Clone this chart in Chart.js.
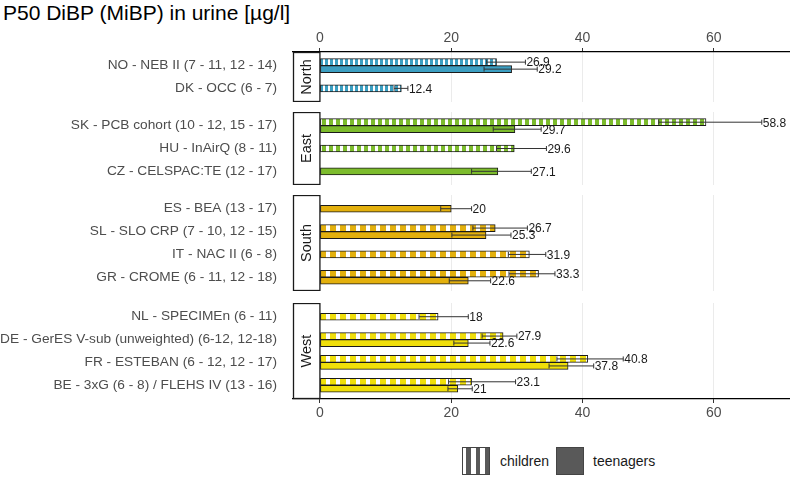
<!DOCTYPE html>
<html>
<head>
<meta charset="utf-8">
<script src="https://cdn.jsdelivr.net/npm/chart.js@4.4.0/dist/chart.umd.min.js"></script>
<style>
  body { margin: 0; background: #fff; font-family: "Liberation Sans", Arial, sans-serif; }
  #wrap { position: relative; width: 790px; height: 477px; overflow: hidden; background: #fff; }
  #title { position: absolute; left: 3px; top: 1px; font-size: 21px; line-height: 24px; color: #000; white-space: nowrap; }
  .panel { position: absolute; left: 0; width: 790px; }
  .key { position: absolute; top: 447px; width: 28px; height: 28px; box-sizing: border-box; border: 1px solid #444; }
  .keytext { position: absolute; top: 447px; line-height: 28px; font-size: 14px; color: #1a1a1a; }
</style>
</head>
<body>
<div id="wrap">
  <div id="title">P50 DiBP (MiBP) in urine [µg/l]</div>
  <div class="key" style="left:462px; background: repeating-linear-gradient(90deg, #fff 0 3.4px, #595959 3.4px 7.7px, #fff 7.7px 9.3px);"></div>
  <div class="keytext" style="left:500px;">children</div>
  <div class="key" style="left:556px; background:#595959;"></div>
  <div class="keytext" style="left:593px;">teenagers</div>
</div>
<script>
// Values (median, with lower / upper bound of the interval)
const xTicks = [0, 20, 40, 60];
const regions = ['North', 'East', 'South', 'West'];

const northStudies = ['NO - NEB II (7 - 11, 12 - 14)', 'DK - OCC (6 - 7)'];
const northChildren = [26.9, 12.4];
const northChildrenCI = [[25.4, 31.3], [11.3, 13.4]];
const northTeens = [29.2, null];
const northTeensCI = [[25.0, 33.1], null];

const eastStudies = ['SK - PCB cohort (10 - 12, 15 - 17)', 'HU - InAirQ (8 - 11)', 'CZ - CELSPAC:TE (12 - 17)'];
const eastChildren = [58.8, 29.6, null];
const eastChildrenCI = [[51.6, 67.3], [26.9, 34.5], null];
const eastTeens = [29.7, null, 27.1];
const eastTeensCI = [[26.4, 33.7], null, [23.1, 32.2]];

const southStudies = ['ES - BEA (13 - 17)', 'SL - SLO CRP (7 - 10, 12 - 15)', 'IT - NAC II (6 - 8)', 'GR - CROME (6 - 11, 12 - 18)'];
const southChildren = [null, 26.7, 31.9, 33.3];
const southChildrenCI = [null, [23.3, 31.6], [28.7, 34.4], [28.8, 35.8]];
const southTeens = [20, 25.3, null, 22.6];
const southTeensCI = [[18.4, 23.1], [20.1, 29.1], null, [19.7, 26.0]];

const westStudies = ['NL - SPECIMEn (6 - 11)', 'DE - GerES V-sub (unweighted) (6-12, 12-18)', 'FR - ESTEBAN (6 - 12, 12 - 17)', 'BE - 3xG (6 - 8) / FLEHS IV (13 - 16)'];
const westChildren = [18, 27.9, 40.8, 23.1];
const westChildrenCI = [[15.1, 22.6], [24.7, 30.0], [36.1, 46.2], [19.6, 29.8]];
const westTeens = [null, 22.6, 37.8, 21];
const westTeensCI = [null, [20.4, 25.9], [34.9, 41.7], [19.5, 23.2]];

// Layout / styles
const regionColors = ['#3c9fc2', '#7cbc2c', '#e3b00d', '#f0df0a'];
const panelTops = [52, 112, 195, 303];
const panelHeights = [50, 73, 96, 96];
const axisH = 27;
const font = '"Liberation Sans", Arial, sans-serif';

const panels = [
    { studies: northStudies, children: northChildren, childrenCI: northChildrenCI, teens: northTeens, teensCI: northTeensCI },
    { studies: eastStudies, children: eastChildren, childrenCI: eastChildrenCI, teens: eastTeens, teensCI: eastTeensCI },
    { studies: southStudies, children: southChildren, childrenCI: southChildrenCI, teens: southTeens, teensCI: southTeensCI },
    { studies: westStudies, children: westChildren, childrenCI: westChildrenCI, teens: westTeens, teensCI: westTeensCI }
];

// vertical white stripes for the children bars
function stripes(ctx, color, period) {
    const c = document.createElement('canvas');
    c.width = period; c.height = 4;
    const g = c.getContext('2d');
    g.fillStyle = color;
    g.fillRect(0, 0, period, 4);
    g.fillStyle = '#fff';
    g.fillRect(Math.round(period * 0.6), 0, Math.round(period * 0.4), 4);
    return ctx.createPattern(c, 'repeat');
}

// error bars, value labels and the region strip
function panelDecor(name) {
    return {
        id: 'decor',
        afterDatasetsDraw(chart) {
            const ctx = chart.ctx, xs = chart.scales.x, area = chart.chartArea;
            ctx.save();
            chart.data.datasets.forEach((ds, d) => {
                const meta = chart.getDatasetMeta(d);
                ds.data.forEach((v, k) => {
                    if (v === null) return;
                    const bar = meta.data[k];
                    const x0 = xs.getPixelForValue(ds.ci[k][0]);
                    const x1 = xs.getPixelForValue(ds.ci[k][1]);
                    const y = bar.y;
                    ctx.strokeStyle = '#333';
                    ctx.lineWidth = 1;
                    ctx.beginPath();
                    ctx.moveTo(x0, y); ctx.lineTo(x1, y);
                    ctx.moveTo(x0, y - 2.5); ctx.lineTo(x0, y + 2.5);
                    ctx.moveTo(x1, y - 2.5); ctx.lineTo(x1, y + 2.5);
                    ctx.stroke();
                    ctx.fillStyle = '#1a1a1a';
                    ctx.font = '12px ' + font;
                    ctx.textAlign = 'left';
                    ctx.textBaseline = 'middle';
                    ctx.fillText(String(v), x1 + 1, y + 1);
                });
            });

            const sx = xs.getPixelForValue(0);
            const left = area.left + 0.5;
            ctx.fillStyle = '#fff';
            ctx.fillRect(left, area.top, sx - left, area.bottom - area.top);
            ctx.strokeStyle = '#1a1a1a';
            ctx.lineWidth = 1.3;
            ctx.strokeRect(left, area.top + 0.5, sx - left, area.bottom - area.top - 1);
            ctx.translate((left + sx) / 2, (area.top + area.bottom) / 2);
            ctx.rotate(-Math.PI / 2);
            ctx.fillStyle = '#1a1a1a';
            ctx.font = '14.5px ' + font;
            ctx.textAlign = 'center';
            ctx.textBaseline = 'middle';
            ctx.fillText(name, 0, 0);
            ctx.restore();
        }
    };
}

function makePanel(i) {
    const p = panels[i];
    const first = i === 0, last = i === panels.length - 1;
    const top = panelTops[i] - (first ? axisH : 0);
    const h = panelHeights[i] + (first || last ? axisH : 0);

    const div = document.createElement('div');
    div.className = 'panel';
    div.style.top = top + 'px';
    div.style.height = h + 'px';
    const canvas = document.createElement('canvas');
    canvas.width = 790;
    canvas.height = h;
    div.appendChild(canvas);
    document.getElementById('wrap').appendChild(div);

    const ctx = canvas.getContext('2d');
    const color = regionColors[i];

    new Chart(ctx, {
        type: 'bar',
        data: {
            labels: p.studies.map((s, k) => k),
            datasets: [
                { label: 'children', data: p.children, ci: p.childrenCI,
                  backgroundColor: stripes(ctx, color, Math.round(panelHeights[i] / 10)) },
                { label: 'teenagers', data: p.teens, ci: p.teensCI, backgroundColor: color }
            ]
        },
        options: {
            indexAxis: 'y',
            responsive: false,
            animation: false,
            layout: { padding: 0 },
            datasets: {
                bar: { barThickness: 7, skipNull: true, borderColor: '#1a1a1a', borderWidth: 1, borderSkipped: false }
            },
            plugins: { legend: { display: false }, tooltip: { enabled: false } },
            scales: {
                x: {
                    type: 'linear',
                    min: -4.1,
                    max: 71.6,
                    position: first ? 'top' : 'bottom',
                    afterBuildTicks: s => { s.ticks = xTicks.map(v => ({ value: v })); },
                    afterFit: s => {
                        s.height = (first || last) ? axisH : 0;
                        s.paddingLeft = 0; s.paddingRight = 0;
                    },
                    grid: { color: '#ebebeb', lineWidth: 1, drawTicks: first || last, tickLength: 4, tickColor: '#333' },
                    border: { display: first || last, color: '#000', width: 1.2 },
                    ticks: { display: first || last, color: '#4d4d4d', font: { size: 14, family: font }, padding: 1.5 }
                },
                y: {
                    type: 'linear',
                    reverse: true,
                    offset: false,
                    min: -0.6,
                    max: p.studies.length - 0.4,
                    afterBuildTicks: s => { s.ticks = p.studies.map((st, k) => ({ value: k })); },
                    afterFit: s => {
                        s.width = 293;
                        s.paddingTop = 0; s.paddingBottom = 0;
                    },
                    grid: { display: false, offset: false },
                    border: { display: false },
                    ticks: { autoSkip: false, callback: v => p.studies[v], color: '#4d4d4d',
                             font: { size: 13.7, family: font }, padding: 8 }
                }
            }
        },
        plugins: [panelDecor(regions[i])]
    });
}

panels.forEach((p, i) => makePanel(i));
</script>
</body>
</html>
